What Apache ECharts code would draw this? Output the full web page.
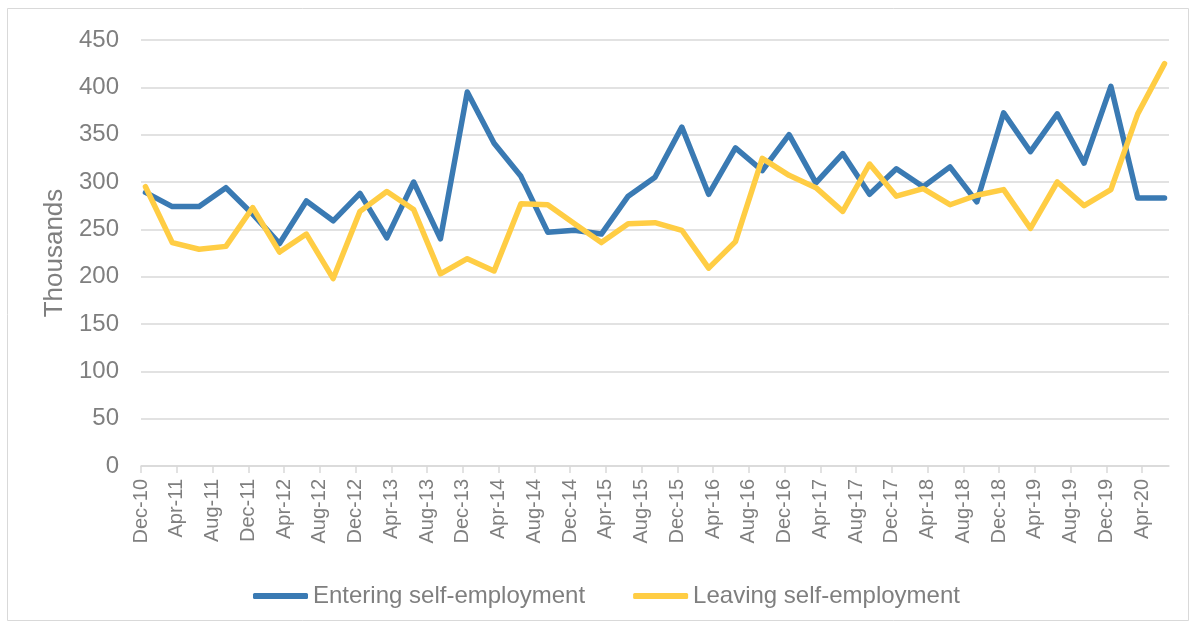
<!DOCTYPE html>
<html>
<head>
<meta charset="utf-8">
<title>Self-employment flows</title>
<script src="https://cdn.jsdelivr.net/npm/echarts@6/dist/echarts.min.js"></script>
<style>
  html, body { margin: 0; padding: 0; background: #ffffff; }
  #chart { width: 1194px; height: 627px; }
</style>
</head>
<body>
<div id="chart"></div>
<script>
// Quarterly periods (month ending each three-month period)
const periods = [
  'Dec-10', 'Mar-11', 'Jun-11', 'Sep-11', 'Dec-11', 'Mar-12', 'Jun-12', 'Sep-12',
  'Dec-12', 'Mar-13', 'Jun-13', 'Sep-13', 'Dec-13', 'Mar-14', 'Jun-14', 'Sep-14',
  'Dec-14', 'Mar-15', 'Jun-15', 'Sep-15', 'Dec-15', 'Mar-16', 'Jun-16', 'Sep-16',
  'Dec-16', 'Mar-17', 'Jun-17', 'Sep-17', 'Dec-17', 'Mar-18', 'Jun-18', 'Sep-18',
  'Dec-18', 'Mar-19', 'Jun-19', 'Sep-19', 'Dec-19', 'Mar-20', 'Jun-20'
];

// Flows, thousands
const entering = [
  289, 274, 274, 294, 266, 235, 280, 259,
  288, 241, 300, 240, 395, 341, 306, 247,
  249, 245, 285, 305, 358, 287, 336, 312,
  350, 299, 330, 287, 314, 295, 316, 279,
  373, 332, 372, 320, 401, 283, 283
];
const leaving = [
  295, 236, 229, 232, 273, 226, 245, 198,
  269, 290, 271, 203, 219, 206, 277, 276,
  256, 236, 256, 257, 249, 209, 237, 325,
  307, 294, 269, 319, 285, 293, 276, 286,
  292, 251, 300, 275, 292, 372, 425
];

// Axis tick labels, every four months
const tickLabels = [
  'Dec-10', 'Apr-11', 'Aug-11', 'Dec-11', 'Apr-12', 'Aug-12', 'Dec-12', 'Apr-13',
  'Aug-13', 'Dec-13', 'Apr-14', 'Aug-14', 'Dec-14', 'Apr-15', 'Aug-15', 'Dec-15',
  'Apr-16', 'Aug-16', 'Dec-16', 'Apr-17', 'Aug-17', 'Dec-17', 'Apr-18', 'Aug-18',
  'Dec-18', 'Apr-19', 'Aug-19', 'Dec-19', 'Apr-20'
];

const seriesNames = ['Entering self-employment', 'Leaving self-employment'];

// Month labels -> months since Dec-10 on a continuous date scale
const MONTHS = ['Jan','Feb','Mar','Apr','May','Jun','Jul','Aug','Sep','Oct','Nov','Dec'];
function monthIndex(label) {
  const [m, y] = label.split('-');
  return (2000 + Number(y) - 2010) * 12 + MONTHS.indexOf(m) - 11;
}
// points sit mid-month, like a date axis
const xs = periods.map(p => monthIndex(p) + 0.5);
const tickValues = tickLabels.map(monthIndex);
const tickMap = {};
tickLabels.forEach((t, i) => { tickMap[tickValues[i]] = t; });

const FONT = '"Liberation Sans", Arial, sans-serif';
const GREY_TEXT = '#7f7f7f';
const GRID = '#d9d9d9';
const BLUE = '#3a7ab3';
const YELLOW = '#ffcd44';

const chart = echarts.init(document.getElementById('chart'), null, { renderer: 'canvas' });

chart.setOption({
  animation: false,
  backgroundColor: '#ffffff',
  textStyle: { fontFamily: FONT },
  graphic: [{
    type: 'rect',
    silent: true,
    shape: { x: 7.5, y: 8.5, width: 1181, height: 612 },
    style: { fill: 'none', stroke: GRID, lineWidth: 1 }
  }],
  grid: { left: 141, right: 25, top: 40, bottom: 161, containLabel: false },
  legend: {
    left: 253,
    top: 584,
    padding: 0,
    icon: 'roundRect',
    itemWidth: 55,
    itemHeight: 6,
    itemGap: 48,
    textStyle: { fontFamily: FONT, fontSize: 24, color: GREY_TEXT },
    data: seriesNames
  },
  xAxis: {
    type: 'value',
    min: 0,
    max: monthIndex('Jul-20'),
    axisLine: { show: true, onZero: false, lineStyle: { color: GRID, width: 1.5 } },
    axisTick: {
      show: true, length: 7, inside: false,
      customValues: tickValues,
      lineStyle: { color: GRID, width: 1.5 }
    },
    splitLine: { show: false },
    axisLabel: {
      rotate: 90,
      margin: 13,
      customValues: tickValues,
      fontFamily: FONT,
      fontSize: 20,
      color: GREY_TEXT,
      formatter: v => tickMap[v] || ''
    }
  },
  yAxis: {
    type: 'value',
    min: 0,
    max: 450,
    interval: 50,
    name: 'Thousands',
    nameLocation: 'middle',
    nameGap: 68,
    nameTextStyle: { fontFamily: FONT, fontSize: 26, color: GREY_TEXT },
    axisLine: { show: false },
    axisTick: { show: false },
    splitLine: { show: true, lineStyle: { color: GRID, width: 1.5 } },
    axisLabel: { margin: 22, fontFamily: FONT, fontSize: 24, color: GREY_TEXT }
  },
  series: [
    {
      name: seriesNames[0],
      type: 'line',
      data: xs.map((x, i) => [x, entering[i]]),
      symbol: 'none',
      lineStyle: { color: BLUE, width: 5.5, cap: 'round', join: 'round' },
      itemStyle: { color: BLUE },
      z: 3
    },
    {
      name: seriesNames[1],
      type: 'line',
      data: xs.map((x, i) => [x, leaving[i]]),
      symbol: 'none',
      lineStyle: { color: YELLOW, width: 5.5, cap: 'round', join: 'round' },
      itemStyle: { color: YELLOW },
      z: 4
    }
  ]
});
</script>
</body>
</html>
